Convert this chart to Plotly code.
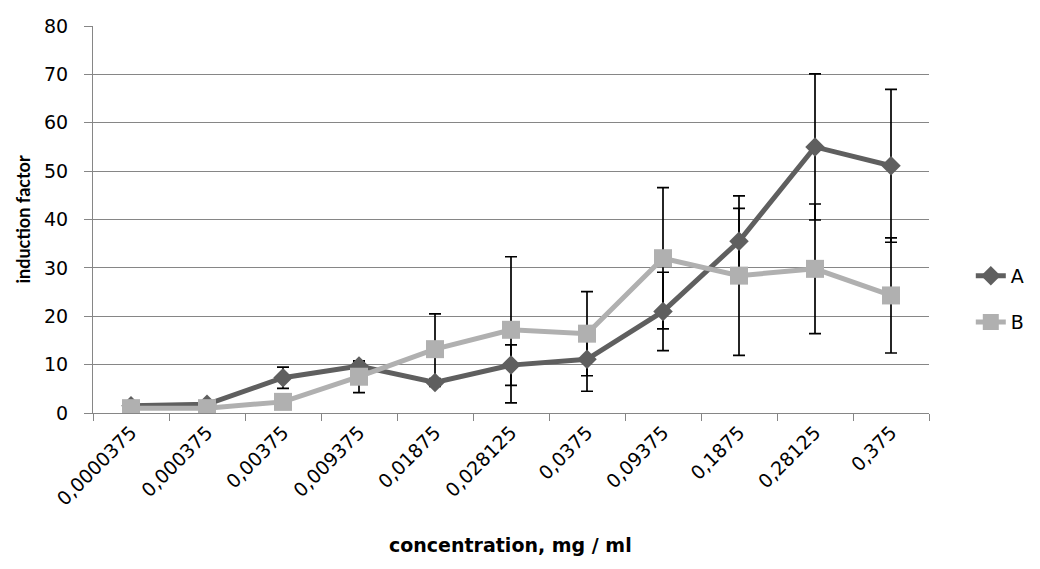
import plotly.graph_objects as go

categories = ["0,0000375", "0,000375", "0,00375", "0,009375", "0,01875", "0,028125",
              "0,0375", "0,09375", "0,1875", "0,28125", "0,375"]
series_a = [1.5, 1.8, 7.3, 9.7, 6.3, 9.9, 11.1, 21.0, 35.5, 55.0, 51.1]
err_a = [0.3, 0.3, 2.2, 1.0, 0.8, 4.2, 6.6, 8.1, 6.8, 15.1, 15.8]
series_b = [1.0, 1.0, 2.3, 7.5, 13.2, 17.2, 16.4, 32.0, 28.4, 29.8, 24.3]
err_b = [0.2, 0.2, 0.5, 3.3, 7.3, 15.1, 8.7, 14.6, 16.5, 13.4, 11.9]

col_a = "#5f5f5f"
col_b = "#b0b0b0"
grid = "#868686"
tick_font = dict(family="DejaVu Sans", size=19, color="#000000")

fig = go.Figure()

# error bars first (beneath series)
for vals, errs in ((series_a, err_a), (series_b, err_b)):
    fig.add_trace(go.Scatter(
        x=categories, y=vals, mode="markers",
        marker=dict(size=1, color="rgba(0,0,0,0)"),
        error_y=dict(type="data", array=errs, visible=True, color="#000000",
                     thickness=1.7, width=6),
        showlegend=False, hoverinfo="skip"))

fig.add_trace(go.Scatter(
    x=categories, y=series_a, mode="lines+markers", name="A",
    line=dict(color=col_a, width=5),
    marker=dict(symbol="diamond", size=15, color=col_a),
    legend="legend"))
fig.add_trace(go.Scatter(
    x=categories, y=series_b, mode="lines+markers", name="B",
    line=dict(color=col_b, width=5),
    marker=dict(symbol="square", size=18, color=col_b),
    legend="legend2"))

fig.update_layout(
    width=1032, height=561,
    margin=dict(l=85, r=111, t=18, b=156, autoexpand=False),
    paper_bgcolor="white", plot_bgcolor="white",
    font=tick_font,
    legend=dict(x=1.05, y=0.354, xanchor="left", yanchor="middle",
                font=dict(family="DejaVu Sans", size=19, color="#000"),
                bgcolor="rgba(0,0,0,0)"),
    legend2=dict(x=1.05, y=0.235, xanchor="left", yanchor="middle",
                 font=dict(family="DejaVu Sans", size=19, color="#000"),
                 bgcolor="rgba(0,0,0,0)"),
    xaxis=dict(type="category", showgrid=False, showline=True, linecolor=grid,
               linewidth=1, ticks="outside", tickson="boundaries", ticklen=7,
               tickcolor=grid, tickangle=-45, tickfont=tick_font,
               range=[-0.5, 10.5], zeroline=False),
    yaxis=dict(range=[0, 80], dtick=10, showgrid=True, gridcolor=grid, gridwidth=1,
               showline=True, linecolor=grid, linewidth=1, ticks="outside",
               ticklen=8, tickcolor=grid, tickfont=tick_font, zeroline=False,
               ticklabelstandoff=12),
    annotations=[
        dict(text="<b>induction factor</b>", xref="paper", yref="paper",
             x=0, y=0.5, xshift=-71, textangle=-90, showarrow=False,
             xanchor="center", yanchor="middle",
             font=dict(family="Lato", size=18, color="#000")),
        dict(text="<b>concentration, mg / ml</b>", xref="paper", yref="paper",
             x=0.499, y=0, yshift=-132, showarrow=False,
             xanchor="center", yanchor="middle",
             font=dict(family="DejaVu Sans", size=19, color="#000")),
    ],
)

fig.write_html("out.html")
